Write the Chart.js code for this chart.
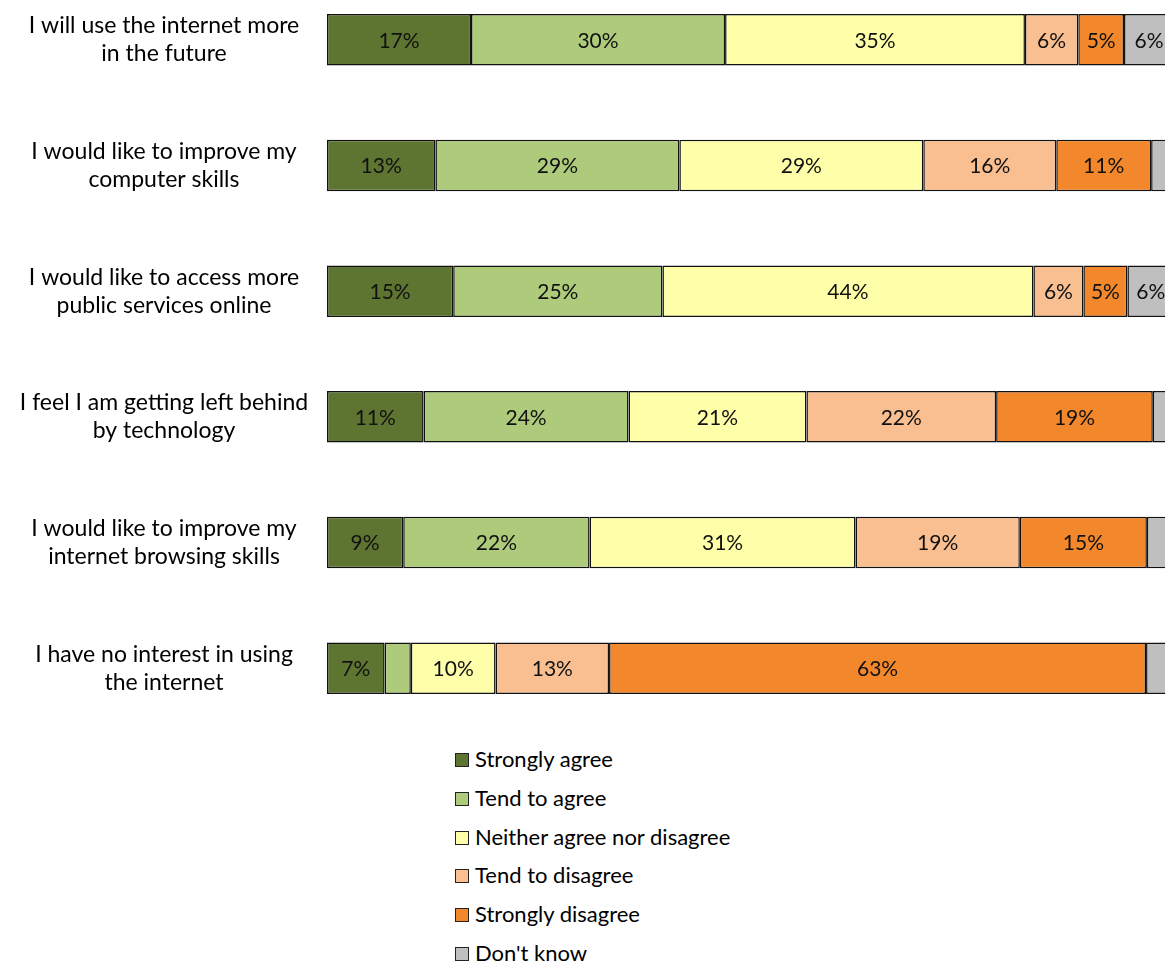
<!DOCTYPE html>
<html>
<head>
<meta charset="utf-8">
<script src="https://cdn.jsdelivr.net/npm/chart.js@4"></script>
<style>
  html, body { margin: 0; padding: 0; background: #fff; }
  #wrap { position: relative; width: 1165px; height: 964px; overflow: hidden; font-family: Lato, sans-serif; }
  #chartBox { position: absolute; left: 0; top: -23px; width: 1174px; height: 754px; }
  #legend { position: absolute; left: 455px; top: 744px; margin: 0; padding: 0; list-style: none; }
  #legend li { height: 38.8px; line-height: 30px; font-size: 22px; color: #000; white-space: nowrap; }
  #legend span.box { display: inline-block; width: 12px; height: 12px; border: 1px solid #222; margin-right: 6px; vertical-align: 0px; }
</style>
</head>
<body>
<div id="wrap">
  <div id="chartBox"><canvas id="myChart" width="1174" height="754"></canvas></div>
  <ul id="legend"></ul>
</div>
<script>
// 문항 (두 줄)
const statements = [
  ['I will use the internet more', 'in the future'],
  ['I would like to improve my', 'computer skills'],
  ['I would like to access more', 'public services online'],
  ['I feel I am getting left behind', 'by technology'],
  ['I would like to improve my', 'internet browsing skills'],
  ['I have no interest in using', 'the internet']
];

const seriesNames = ['Strongly agree', 'Tend to agree', 'Neither agree nor disagree', 'Tend to disagree', 'Strongly disagree', "Don't know"];
const seriesColors = ['#5E7431', '#AECB7C', '#FFFFAA', '#F9BF90', '#F3872C', '#BFBFBF'];

// 응답 비율 (%)
const stronglyAgree    = [17.0, 12.8, 14.9, 11.4,  9.0,  6.8];
const tendToAgree      = [30.0, 28.8, 24.7, 24.2, 22.0,  3.1];
const neither          = [35.4, 28.8, 43.8, 21.0, 31.4, 10.0];
const tendToDisagree   = [ 6.3, 15.7,  5.9, 22.4, 19.4, 13.4];
const stronglyDisagree = [ 5.4, 11.2,  5.2, 18.5, 15.0, 63.4];
const dontKnow         = [ 5.9,  2.7,  5.5,  2.5,  3.2,  3.3];

const seriesValues = [stronglyAgree, tendToAgree, neither, tendToDisagree, stronglyDisagree, dontKnow];

// 막대 안에 퍼센트 표시 (작은 값은 생략)
const barLabels = {
  id: 'barLabels',
  afterDatasetsDraw(chart) {
    const ctx = chart.ctx;
    ctx.save();
    ctx.font = '21px Lato, sans-serif';
    ctx.fillStyle = '#111';
    ctx.textAlign = 'center';
    ctx.textBaseline = 'middle';
    chart.data.datasets.forEach((ds, i) => {
      chart.getDatasetMeta(i).data.forEach((bar, j) => {
        const v = ds.data[j];
        if (v < 4) return;
        const p = bar.getCenterPoint();
        ctx.fillText(Math.round(v) + '%', p.x, p.y + 1);
      });
    });
    ctx.restore();
  }
};

// 왼쪽 문항 라벨 (가운데 정렬, 두 줄)
const statementLabels = {
  id: 'statementLabels',
  afterDraw(chart) {
    const ctx = chart.ctx;
    const yScale = chart.scales.y;
    const lineGap = 28;
    const cx = yScale.right - 163;
    ctx.save();
    ctx.font = '23px Lato, sans-serif';
    ctx.fillStyle = '#000';
    ctx.textAlign = 'center';
    ctx.textBaseline = 'middle';
    statements.forEach((lines, i) => {
      const cy = yScale.getPixelForTick(i);
      lines.forEach((text, k) => {
        ctx.fillText(text, cx, cy + (k - (lines.length - 1) / 2) * lineGap);
      });
    });
    ctx.restore();
  }
};

const ctx = document.getElementById('myChart').getContext('2d');
const myChart = new Chart(ctx, {
  type: 'bar',
  data: {
    labels: statements.map(s => s.join(' ')),
    datasets: seriesValues.map((vals, i) => ({
      label: seriesNames[i],
      data: vals,
      backgroundColor: seriesColors[i],
      borderColor: '#111',
      borderWidth: 1.5,
      borderSkipped: false,
      barPercentage: 0.41,
      categoryPercentage: 1
    }))
  },
  options: {
    indexAxis: 'y',
    responsive: false,
    animation: false,
    devicePixelRatio: 1,
    layout: { padding: 0 },
    plugins: {
      legend: { display: false },
      tooltip: { enabled: false }
    },
    scales: {
      x: {
        stacked: true,
        min: 0,
        max: 100,
        display: false
      },
      y: {
        stacked: true,
        grid: { display: false, drawTicks: false },
        border: { display: false },
        ticks: { display: false },
        afterFit(scale) { scale.width = 327; }
      }
    }
  },
  plugins: [barLabels, statementLabels]
});

// 범례
const legendEl = document.getElementById('legend');
seriesNames.forEach((name, i) => {
  const li = document.createElement('li');
  li.innerHTML = '<span class="box" style="background:' + seriesColors[i] + '"></span>' + name;
  legendEl.appendChild(li);
});
</script>
</body>
</html>
